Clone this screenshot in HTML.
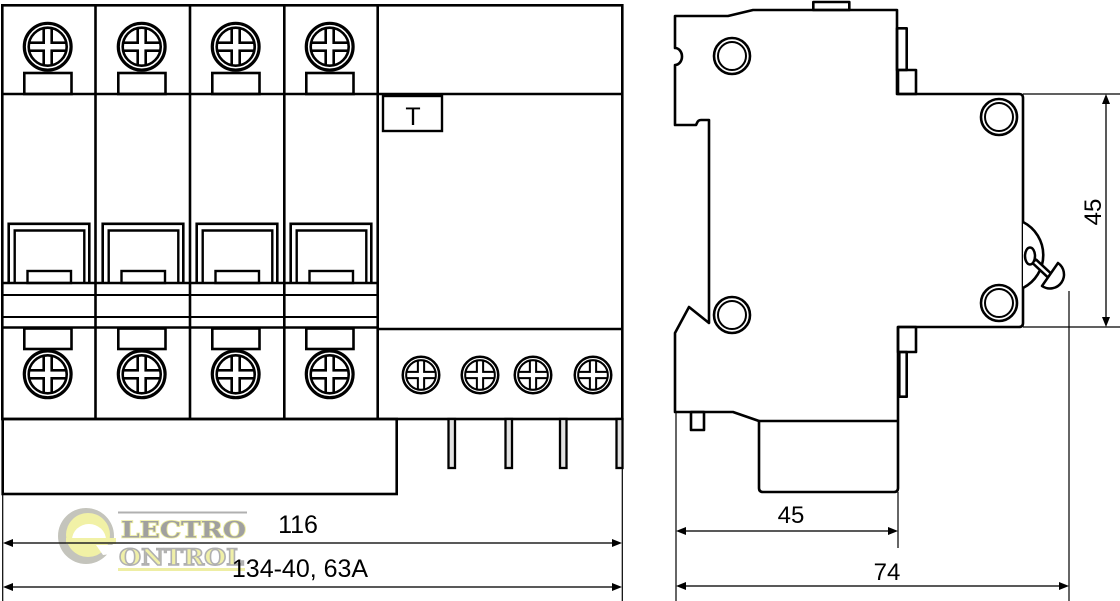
<!DOCTYPE html>
<html><head><meta charset="utf-8">
<style>html,body{margin:0;padding:0;background:#fff;}svg{display:block}</style>
</head>
<body>
<svg width="1120" height="601" viewBox="0 0 1120 601" xmlns="http://www.w3.org/2000/svg">
<defs>
 <g id="sc">
  <circle r="23.4" fill="#fff" stroke="#000" stroke-width="3.2"/>
  <rect x="-5.3" y="-18.6" width="10.6" height="37.2" fill="#000"/>
  <rect x="-18.6" y="-5.3" width="37.2" height="10.6" fill="#000"/>
  <rect x="-2.7" y="-18.6" width="5.4" height="37.2" fill="#fff"/>
  <rect x="-18.6" y="-2.7" width="37.2" height="5.4" fill="#fff"/>
  <circle r="19" fill="none" stroke="#000" stroke-width="2.6"/>
 </g>
 <g id="ss">
  <circle r="18" fill="#fff" stroke="#000" stroke-width="2.6"/>
  <circle r="14" fill="none" stroke="#000" stroke-width="2"/>
 </g>
 <g id="mod" fill="none" stroke="#000">
  <rect x="22.3" y="73" width="47.2" height="21" stroke-width="2.6"/>
  <path d="M6.7,283 V223.8 H87.3 V283" stroke-width="2.6"/>
  <path d="M12.7,283 V230.5 H82.3 V283" stroke-width="2.4"/>
  <rect x="25.5" y="271" width="43.5" height="12" stroke-width="2.4"/>
  <rect x="22.3" y="328.5" width="47.2" height="20.5" stroke-width="2.6"/>
 </g>
</defs>

<!-- watermark logo -->
<g>
 <circle cx="86" cy="536" r="28" fill="#c4c4bc"/>
 <circle cx="88" cy="535" r="22" fill="#f1f1a6"/>
 <path d="M72,540 A17 16 0 0 1 106,540 Z" fill="#fff"/>
 <rect x="66" y="538" width="50" height="6" fill="#f1f1a6"/>
 <path d="M96,545 L120,545 L120,553 L103,555 Z" fill="#fff"/>
 <line x1="118" y1="512.5" x2="247" y2="512.5" stroke="#b0b0b0" stroke-width="2"/>
 <text x="121" y="537.5" font-family="'DejaVu Serif', serif" font-weight="bold" font-size="22" textLength="125" lengthAdjust="spacingAndGlyphs" fill="#a0a0a0" stroke="#ecec9e" stroke-width="1.6" paint-order="stroke">LECTRO</text>
 <text x="119" y="565" font-family="'DejaVu Serif', serif" font-weight="bold" font-size="22" textLength="125" lengthAdjust="spacingAndGlyphs" fill="#f0f0a8" stroke="#b0b0b0" stroke-width="1.4">ONTROL</text>
 <line x1="118" y1="569.5" x2="245" y2="569.5" stroke="#eeeea4" stroke-width="3"/>
</g>

<!-- LEFT VIEW -->
<g fill="none" stroke="#000" stroke-width="2.6">
 <rect x="2.3" y="5.3" width="620" height="413.7"/>
 <line x1="95.5" y1="5" x2="95.5" y2="419"/>
 <line x1="190" y1="5" x2="190" y2="419"/>
 <line x1="284.3" y1="5" x2="284.3" y2="419"/>
 <line x1="377.7" y1="5" x2="377.7" y2="419"/>
 <line x1="2" y1="94" x2="622" y2="94"/>
 <line x1="2" y1="283" x2="377.7" y2="283"/>
 <line x1="2" y1="295" x2="377.7" y2="295" stroke-width="2.1"/>
 <line x1="2" y1="317" x2="377.7" y2="317" stroke-width="2.1"/>
 <line x1="2" y1="327.5" x2="377.7" y2="327.5"/>
 <line x1="377.7" y1="329" x2="622" y2="329"/>
 <rect x="2.7" y="419" width="394" height="75"/>
 <rect x="383" y="96" width="59" height="35" stroke-width="2.4"/>
</g>
<text x="413" y="125" font-family="'Liberation Sans', sans-serif" font-size="25" text-anchor="middle">T</text>

<use href="#mod" x="2" y="0"/>
<use href="#mod" x="96" y="0"/>
<use href="#mod" x="190" y="0"/>
<use href="#mod" x="284" y="0"/>

<use href="#sc" x="47.7" y="46.7"/>
<use href="#sc" x="141.7" y="46.7"/>
<use href="#sc" x="235.7" y="46.7"/>
<use href="#sc" x="329.7" y="46.7"/>
<use href="#sc" x="47.7" y="374.3"/>
<use href="#sc" x="141.7" y="374.3"/>
<use href="#sc" x="235.7" y="374.3"/>
<use href="#sc" x="329.7" y="374.3"/>

<use href="#sc" transform="translate(421,375) scale(0.78)"/>
<use href="#sc" transform="translate(480,375) scale(0.78)"/>
<use href="#sc" transform="translate(533,375) scale(0.78)"/>
<use href="#sc" transform="translate(593,375) scale(0.78)"/>

<!-- pins -->
<g fill="#e2e2e2" stroke="#000" stroke-width="2.3">
 <rect x="448.5" y="419" width="6.5" height="49"/>
 <rect x="505.5" y="419" width="6.5" height="49"/>
 <rect x="560" y="419" width="6.5" height="49"/>
 <rect x="616.5" y="419" width="6" height="49"/>
</g>

<!-- left dimensions -->
<g stroke="#000" stroke-width="1.2">
 <line x1="2.7" y1="494" x2="2.7" y2="601"/>
 <line x1="622.3" y1="468" x2="622.3" y2="601"/>
</g>
<g stroke="#222" stroke-width="1.5">
 <line x1="6" y1="543" x2="619" y2="543"/>
 <line x1="6" y1="587" x2="619" y2="587"/>
</g>
<g fill="#000">
 <path d="M3,543 L13,539 L13,547 Z"/>
 <path d="M622,543 L612,539 L612,547 Z"/>
 <path d="M3,587 L13,583 L13,591 Z"/>
 <path d="M622,587 L612,583 L612,591 Z"/>
</g>
<text x="298" y="533" font-family="'Liberation Sans', sans-serif" font-size="25" text-anchor="middle">116</text>
<text x="300" y="577" font-family="'Liberation Sans', sans-serif" font-size="25" text-anchor="middle">134-40, 63A</text>

<!-- SIDE VIEW -->
<g fill="none" stroke="#000" stroke-width="2.6" stroke-linejoin="round">
 <path d="M675,16 L728,16 L753,10 L897,10 L897,94 L1019,94 Q1023,94 1023,98 L1023,323 Q1023,327 1019,327 L898,327 L898,488 Q898,492 894,492 L763,492 Q759,492 759,488 L759,421 L733,412 L675,412 L675,333 L689,307 L709,323 L709,120 L701,120 Q698,120 697,123 L696,125 L675,125 L675,65 A7 8.5 0 0 0 675,48 Z"/>
 <line x1="759" y1="421" x2="898" y2="421"/>
 <rect x="813.3" y="2" width="36" height="8"/>
 <rect x="897" y="28.3" width="9.7" height="41.7"/>
 <rect x="898" y="70" width="18" height="24"/>
 <rect x="898" y="327" width="18" height="25"/>
 <rect x="899.3" y="352" width="7.4" height="44.7"/>
 <rect x="691" y="412" width="13" height="18"/>
 <path d="M1023,222 A37 37 0 0 1 1023,288" fill="#fff"/>
</g>
<use href="#ss" x="732" y="56"/>
<use href="#ss" x="732" y="315"/>
<use href="#ss" x="999" y="117"/>
<use href="#ss" x="999" y="303"/>

<!-- test button -->
<ellipse cx="1030" cy="256" rx="5" ry="8.5" fill="#fff" stroke="#000" stroke-width="2.5"/>
<line x1="1034" y1="261" x2="1050" y2="276" stroke="#000" stroke-width="7.5"/>
<line x1="1035" y1="262" x2="1049" y2="275" stroke="#fff" stroke-width="2.5"/>
<path d="M1042,286 L1058,263 A14 14 0 0 1 1042,286 Z" fill="#fff" stroke="#000" stroke-width="2.5" stroke-linejoin="round"/>

<!-- side dims -->
<g stroke="#000" stroke-width="1.2">
 <line x1="676" y1="412" x2="676" y2="601"/>
 <line x1="898" y1="492" x2="898" y2="548"/>
 <line x1="1069" y1="291" x2="1069" y2="601"/>
 <line x1="1023" y1="94" x2="1120" y2="94"/>
 <line x1="1023" y1="327" x2="1120" y2="327"/>
</g>
<g stroke="#222" stroke-width="1.5">
 <line x1="679" y1="531" x2="895" y2="531"/>
 <line x1="679" y1="586" x2="1066" y2="586"/>
 <line x1="1106" y1="97" x2="1106" y2="324"/>
</g>
<g fill="#000">
 <path d="M676,531 L686,527 L686,535 Z"/>
 <path d="M898,531 L888,527 L888,535 Z"/>
 <path d="M676,586 L686,582 L686,590 Z"/>
 <path d="M1069,586 L1059,582 L1059,590 Z"/>
 <path d="M1106,94 L1102,104 L1110,104 Z"/>
 <path d="M1106,327 L1102,317 L1110,317 Z"/>
</g>
<text x="791" y="523" font-family="'Liberation Sans', sans-serif" font-size="24" text-anchor="middle">45</text>
<text x="887" y="580" font-family="'Liberation Sans', sans-serif" font-size="24" text-anchor="middle">74</text>
<text x="1101" y="212" font-family="'Liberation Sans', sans-serif" font-size="24" text-anchor="middle" transform="rotate(-90 1101 212)">45</text>
</svg>
</body></html>
